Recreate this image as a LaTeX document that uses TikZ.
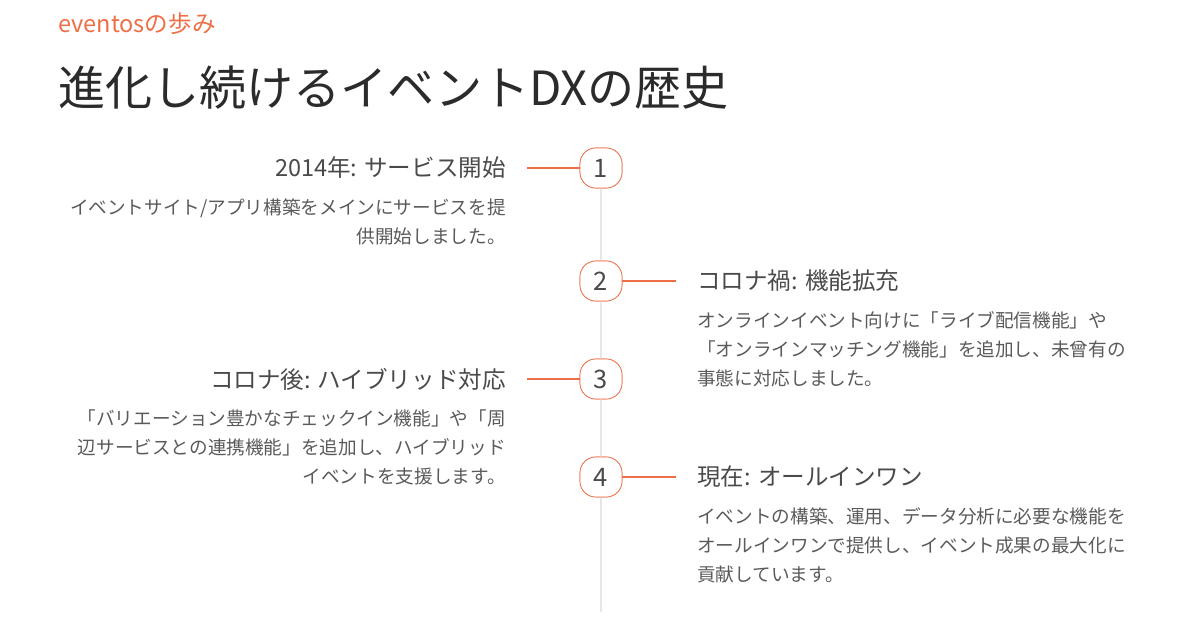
\documentclass[tikz,border=0pt]{standalone}
\usepackage{fontspec}
\setmainfont{Noto Sans CJK JP}
\usetikzlibrary{positioning}
\definecolor{accent}{HTML}{EE6E45}
\definecolor{ink}{HTML}{2B2B2B}
\definecolor{headgray}{HTML}{4A4A4A}
\definecolor{bodygray}{HTML}{5A5A5A}
\definecolor{railgray}{HTML}{E6E6EE}
\tikzset{
  numbox/.style={draw=accent,fill=white,rounded corners=9pt,minimum width=0.84cm,
    minimum height=0.80cm,inner sep=0pt,font=\fontsize{14.5}{14.5}\selectfont,text=headgray},
  headL/.style={anchor=east,inner sep=0pt,font=\fontsize{13.4}{15}\selectfont,text=headgray},
  headR/.style={anchor=west,inner sep=0pt,font=\fontsize{13.4}{15}\selectfont,text=headgray},
  bodyL/.style={anchor=north east,align=right,inner sep=0pt,font=\fontsize{10.6}{16.6}\selectfont,text=bodygray},
  bodyR/.style={anchor=north west,align=left,inner sep=0pt,font=\fontsize{10.6}{16.6}\selectfont,text=bodygray},
  link/.style={draw=accent,line width=1.2pt}
}
\begin{document}
\begin{tikzpicture}[x=0.02cm,y=-0.02cm]
  \useasboundingbox (0,0) rectangle (1200,632);
  % titles
  \node[anchor=west,inner sep=0pt,text=accent,font=\fontsize{13.4}{14}\selectfont] (kicker) at (58,24) {eventosの歩み};
  \node[anchor=west,inner sep=0pt,text=ink,font=\fontsize{26.8}{30}\selectfont] (title) at (58,88) {進化し続けるイベントDXの歴史};
  % rail
  \coordinate (railend) at (601,612);
  \node[numbox] (n1) at (601,168) {1};
  \node[numbox] (n2) at (601,281) {2};
  \node[numbox] (n3) at (601,379) {3};
  \node[numbox] (n4) at (601,477) {4};
  \draw[railgray,line width=1pt] (n1) -- (n2) -- (n3) -- (n4) -- (railend);
  \foreach \n in {1,...,4} { \node[numbox] at (n\n) {\n}; }
  % entries
  \node[headL] (h1) at (506,168) {2014年: サービス開始};
  \node[bodyL] (b1) at (506,198) {イベントサイト/アプリ構築をメインにサービスを提\\供開始しました。};
  \node[headR] (h2) at (697,281) {コロナ禍: 機能拡充};
  \node[bodyR] (b2) at (697,311) {オンラインイベント向けに「ライブ配信機能」や\\「オンラインマッチング機能」を追加し、未曾有の\\事態に対応しました。};
  \node[headL] (h3) at (506,379) {コロナ後: ハイブリッド対応};
  \node[bodyL] (b3) at (506,409) {「バリエーション豊かなチェックイン機能」や「周\\辺サービスとの連携機能」を追加し、ハイブリッド\\イベントを支援します。};
  \node[headR] (h4) at (697,477) {現在: オールインワン};
  \node[bodyR] (b4) at (697,507) {イベントの構築、運用、データ分析に必要な機能を\\オールインワンで提供し、イベント成果の最大化に\\貢献しています。};
  % connectors
  \draw[link] ([xshift=0.42cm]h1.east) -- (n1.west);
  \draw[link] (n2.east) -- ([xshift=-0.42cm]h2.west);
  \draw[link] ([xshift=0.42cm]h3.east) -- (n3.west);
  \draw[link] (n4.east) -- ([xshift=-0.42cm]h4.west);
\end{tikzpicture}
\end{document}
